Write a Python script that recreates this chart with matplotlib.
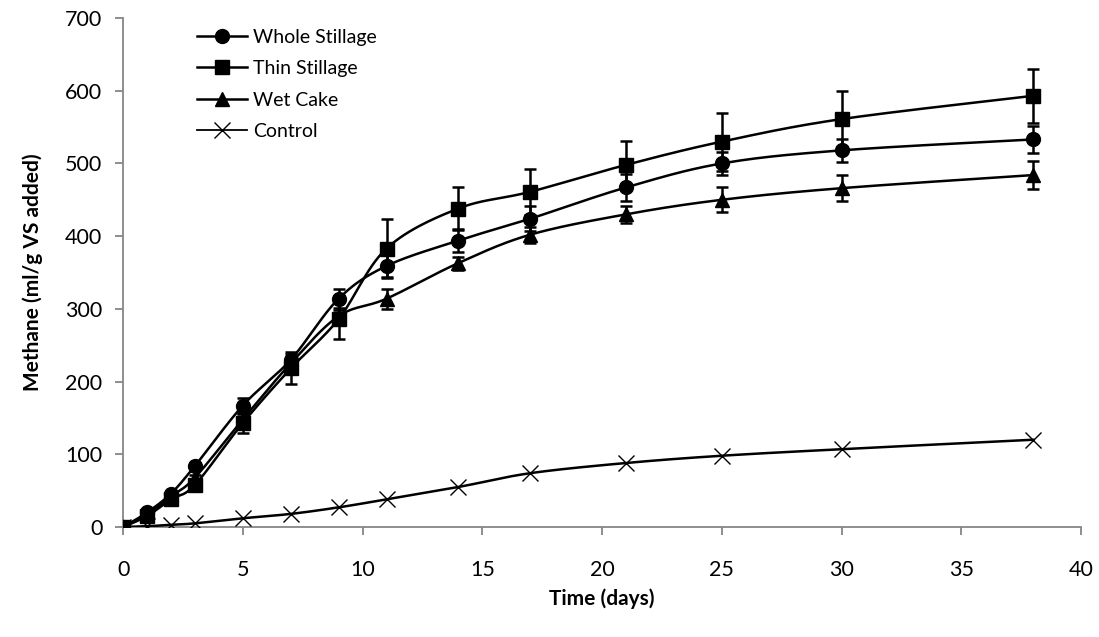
import numpy as np
import matplotlib
matplotlib.use("Agg")
import matplotlib.pyplot as plt
from matplotlib.lines import Line2D

days = [0, 1, 2, 3, 5, 7, 9, 11, 14, 17, 21, 25, 30, 38]
whole = [0, 20, 46, 84, 167, 230, 314, 359, 394, 424, 467, 500, 518, 533]
whole_err = [0, 2, 3, 4, 10, 8, 13, 15, 16, 17, 18, 16, 16, 18]
thin = [0, 15, 38, 58, 143, 218, 286, 383, 438, 461, 498, 530, 561, 593]
thin_err = [0, 3, 4, 5, 14, 22, 28, 40, 30, 32, 33, 40, 38, 37]
wet = [0, 17, 42, 68, 148, 225, 290, 314, 363, 402, 430, 450, 466, 484]
wet_err = [0, 2, 3, 4, 8, 8, 8, 14, 9, 11, 12, 17, 18, 19]
control = [0, 1, 3, 5, 12, 18, 27, 38, 55, 74, 88, 98, 107, 120]

labels = ["Whole Stillage", "Thin Stillage", "Wet Cake", "Control"]

plt.rcParams['font.family'] = ['Lato', 'DejaVu Sans']


def smooth(x, y, n=30):
    x = np.asarray(x, float)
    y = np.asarray(y, float)
    P = np.column_stack([x, y])
    ext = np.vstack([P[0], P, P[-1]])
    out = []
    t = np.linspace(0, 1, n)
    for i in range(len(P) - 1):
        p0, p1, p2, p3 = ext[i], ext[i + 1], ext[i + 2], ext[i + 3]
        c1 = p1 + (p2 - p0) / 6.0
        c2 = p2 - (p3 - p1) / 6.0
        tt = t[:, None]
        seg = ((1 - tt) ** 3) * p1 + 3 * ((1 - tt) ** 2) * tt * c1 + 3 * (1 - tt) * tt ** 2 * c2 + tt ** 3 * p2
        out.append(seg if i == 0 else seg[1:])
    S = np.vstack(out)
    return S[:, 0], S[:, 1]


fig = plt.figure(figsize=(10.99, 6.37), dpi=100)
ax = fig.add_axes([0.112, 0.1727, 0.8716, 0.799])

LW = 1.8
series = [
    (whole, whole_err, 'o', 10),
    (thin, thin_err, 's', 9.5),
    (wet, wet_err, '^', 10),
]
for vals, err, m, ms in series:
    sx, sy = smooth(days, vals)
    ax.plot(sx, sy, color='black', lw=LW, zorder=3)
    ax.errorbar(days, vals, yerr=err, fmt='none', ecolor='black', elinewidth=LW,
                capsize=4.5, capthick=LW, zorder=3)
    ax.plot(days, vals, linestyle='none', marker=m, ms=ms, color='black', zorder=4)

sx, sy = smooth(days, control)
ax.plot(sx, sy, color='black', lw=LW, zorder=3)
ax.plot(days, control, linestyle='none', marker='x', ms=11, mew=1.0, color='black', zorder=4)

ax.set_xlim(0, 40)
ax.set_ylim(0, 700)
ax.set_xticks(range(0, 41, 5))
ax.set_yticks(range(0, 701, 100))

for s in ['top', 'right']:
    ax.spines[s].set_visible(False)
for s in ['left', 'bottom']:
    ax.spines[s].set_color('#868686')
    ax.spines[s].set_linewidth(1.3)
ax.tick_params(axis='both', colors='#868686', length=6, width=1.3, direction='out',
               labelcolor='black', labelsize=15.5)
ax.tick_params(axis='x', pad=18)
ax.tick_params(axis='y', pad=9)

ax.set_xlabel('Time (days)', fontsize=15, fontweight='bold', labelpad=6)
ax.set_ylabel('Methane (ml/g VS added)', fontsize=15, fontweight='bold', labelpad=16)

handles = [
    Line2D([], [], color='black', lw=LW, marker='o', ms=10),
    Line2D([], [], color='black', lw=LW, marker='s', ms=9.5),
    Line2D([], [], color='black', lw=LW, marker='^', ms=10),
    Line2D([], [], color='black', lw=1.3, marker='x', ms=11, mew=1.0),
]
ax.legend(handles, labels, loc='upper left', bbox_to_anchor=(0.17, 0.97),
          bbox_transform=fig.transFigure, frameon=False, fontsize=14,
          handlelength=2.6, handletextpad=0.3, labelspacing=0.74, borderpad=0)

fig.savefig('out.png', dpi=100)
